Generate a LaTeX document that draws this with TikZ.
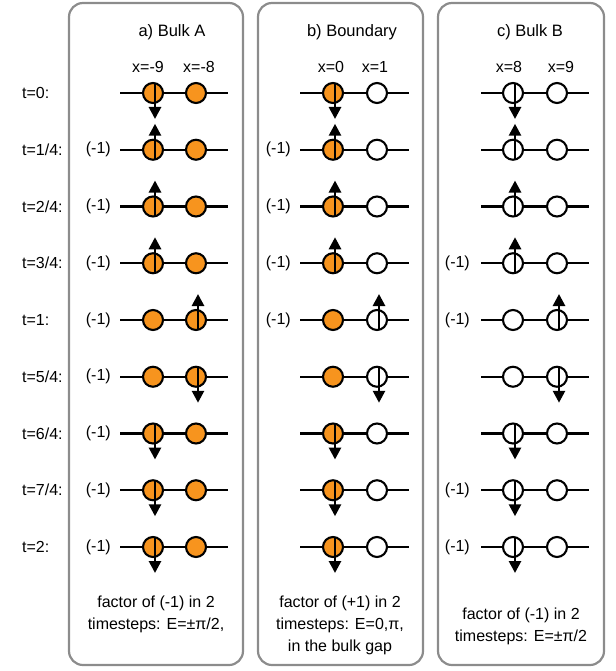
\documentclass[tikz,border=0pt]{standalone}
\usepackage{fontspec}
\setmainfont{Liberation Sans}
\usetikzlibrary{arrows.meta}
\definecolor{siteorange}{RGB}{247,148,30}
\definecolor{panelgray}{RGB}{140,140,140}
\begin{document}
\begin{tikzpicture}[x=1pt,y=-1pt,
  panel/.style={draw=panelgray,line width=2.2pt,rounded corners=14pt},
  site/.style={circle,draw=black,line width=2.1pt,minimum size=20pt,inner sep=0pt},
  chain/.style={line width=2.1pt},
  spin/.style={line width=2.7pt,-{Triangle[length=12pt,width=12pt]}},
  lbl/.style={font=\fontsize{16}{19}\selectfont,inner sep=0pt},
  ttl/.style={font=\fontsize{16.5}{19}\selectfont,inner sep=0pt},
  note/.style={font=\fontsize{16}{22}\selectfont,inner sep=0pt,align=center},
]
\useasboundingbox (0,0) rectangle (615,671);

% the three panels
\draw[panel] (69,3) rectangle (243,665);
\draw[panel] (258,3) rectangle (423,665);
\draw[panel] (438,3) rectangle (604,665);

% panel titles and site labels
\node[ttl] (titA) at (172,32) {a) Bulk A};
\node[ttl] (titB) at (352,32) {b) Boundary};
\node[ttl] (titC) at (530,32) {c) Bulk B};
\node[lbl] (xa1) at (148,67) {x=-9};
\node[lbl] (xa2) at (199,67) {x=-8};
\node[lbl] (xb1) at (331,67) {x=0};
\node[lbl] (xb2) at (375,67) {x=1};
\node[lbl] (xc1) at (509,67) {x=8};
\node[lbl] (xc2) at (561,67) {x=9};

% rows: time label / site carrying the spin / direction (1 up, -1 down) / (-1) marks in a, b, c
\foreach \row/\tlab/\st/\dir/\ma/\mb/\mc in {
  0/{t=0:}/L/-1/0/0/0,
  1/{t=1/4:}/L/1/1/1/0,
  2/{t=2/4:}/L/1/1/1/0,
  3/{t=3/4:}/L/1/1/1/1,
  4/{t=1:}/R/1/1/1/1,
  5/{t=5/4:}/R/-1/1/0/0,
  6/{t=6/4:}/L/-1/1/0/0,
  7/{t=7/4:}/L/-1/1/0/1,
  8/{t=2:}/L/-1/1/0/1}{
  \pgfmathsetmacro\yy{93+56.75*\row}
  \pgfmathsetmacro\ys{-10*\dir}
  \pgfmathsetmacro\ye{26*\dir}
  \node[lbl,anchor=west] (t\row) at (22,\yy) {\tlab};
  \foreach \pan/\xl/\xr/\xs/\xe/\fl/\fr/\xm/\mk in {
    a/153/196/120/228/siteorange/siteorange/111/\ma,
    b/333/377/300/409/siteorange/white/291/\mb,
    c/513/557/481/589/white/white/470/\mc}{
    \coordinate (\pan\row s) at (\xs,\yy);
    \coordinate (\pan\row e) at (\xe,\yy);
    \node[site,fill=\fl] (\pan\row L) at (\xl,\yy) {};
    \node[site,fill=\fr] (\pan\row R) at (\xr,\yy) {};
    \draw[chain] (\pan\row s) -- (\pan\row L) -- (\pan\row R) -- (\pan\row e);
    \ifnum\mk=1
      \node[lbl,anchor=east] (\pan\row m) at (\xm,\yy) {(-1)};
    \fi
    \draw[spin] ([xshift=2pt,yshift=\ys pt]\pan\row\st.center)
      -- ([xshift=2pt,yshift=\ye pt]\pan\row\st.center);
  }
}

% captions under the panels
\node[note] (capA) at (156,614) {factor of (-1) in 2\\timesteps: E=±π/2,};
\node[note] (capB) at (340,625) {factor of (+1) in 2\\timesteps: E=0,π,\\in the bulk gap};
\node[note] (capC) at (521,626) {factor of (-1) in 2\\timesteps: E=±π/2};
\end{tikzpicture}
\end{document}
